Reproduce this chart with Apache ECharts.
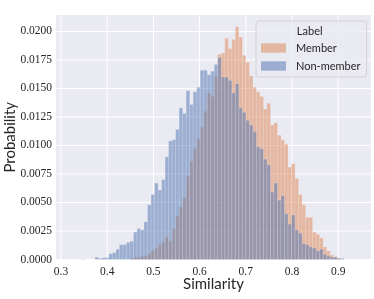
<!DOCTYPE html>
<html><head><meta charset="utf-8">
<script src="https://cdn.jsdelivr.net/npm/echarts@6/dist/echarts.min.js"></script>
<style>html,body{margin:0;padding:0;background:#fff}#c{width:374px;height:299px}</style>
</head><body><div id="c"></div>
<script>
// Histogram definition (shared bins)
const binStart = 0.3202;
const binWidth = 0.0076;

// Probability per bin, Member
const memberProb = [
  0,0,0,0,0,0,0,0,0,0,
  0,0,0,0,0,0,0,0.0001,0.0002,0.0002,
  0.0003,0.0003,0.0005,0.0008,0.0010,0.0013,0.0015,0.0020,0.0016,0.0027,
  0.0038,0.0046,0.0054,0.0073,0.0086,0.0097,0.0106,0.0116,0.0130,0.0146,
  0.0143,0.0161,0.0180,0.0181,0.0194,0.0185,0.0193,0.0204,0.0195,0.0179,
  0.0173,0.0161,0.0151,0.0147,0.0143,0.0132,0.0137,0.0118,0.0120,0.0109,
  0.0105,0.0101,0.0081,0.0084,0.0071,0.0057,0.0048,0.0037,0.0037,0.0024,
  0.0022,0.0019,0.0011,0.00075,0.0004,0.00025,0.0001,0,0,0,
  0,0,0
];

// Probability per bin, Non-member
const nonMemberProb = [
  0,0,0,0.00004,0,0,0,0.0002,0.0001,0.00015,
  0.00016,0.0005,0.0006,0.0009,0.0013,0.0013,0.0015,0.0016,0.0024,0.0027,
  0.0026,0.0033,0.0048,0.0057,0.0067,0.0061,0.0070,0.0090,0.0104,0.0105,
  0.0114,0.0133,0.0128,0.0148,0.0136,0.0147,0.0151,0.0166,0.0166,0.0162,
  0.0165,0.0171,0.0177,0.0160,0.0160,0.0157,0.0146,0.0154,0.0133,0.0129,
  0.0122,0.0118,0.0112,0.0099,0.0097,0.0088,0.0083,0.0059,0.0067,0.0052,
  0.0056,0.0040,0.0031,0.0039,0.0026,0.0023,0.0014,0.0013,0.0011,0.0010,
  0.00075,0.0009,0.00045,0.0003,0.0002,0.0002,0.0001,0.0001,0,0,
  0,0,0
];

const xTicks = [0.3, 0.4, 0.5, 0.6, 0.7, 0.8, 0.9];
const yTicks = [0, 0.0025, 0.005, 0.0075, 0.01, 0.0125, 0.015, 0.0175, 0.02];
const xRange = [0.2892, 0.971];
const yRange = [0, 0.02144];

function toBins(arr) {
  const out = [];
  arr.forEach((v, i) => { if (v > 0) out.push([binStart + i * binWidth, binStart + (i + 1) * binWidth, v]); });
  return out;
}

function barRender(params, api) {
  const p0 = api.coord([api.value(0), api.value(2)]);
  const p1 = api.coord([api.value(1), 0]);
  return {
    type: 'rect',
    shape: { x: p0[0], y: p0[1], width: p1[0] - p0[0], height: p1[1] - p0[1] },
    style: { fill: api.visual('color'), stroke: 'rgba(255,255,255,0.3)', lineWidth: 0.5 }
  };
}

const gridData = xTicks.map(v => [v, 'x']).concat(yTicks.map(v => [v, 'y']));
function gridRender(params, api) {
  const cs = params.coordSys;
  const d = gridData[params.dataIndex];
  if (d[1] === 'x') {
    const px = api.coord([d[0], 0])[0];
    return { type: 'line', shape: { x1: px, y1: cs.y, x2: px, y2: cs.y + cs.height }, style: { stroke: '#ffffff', lineWidth: 1 } };
  }
  const py = api.coord([xRange[0], d[0]])[1];
  return { type: 'line', shape: { x1: cs.x, y1: py, x2: cs.x + cs.width, y2: py }, style: { stroke: '#ffffff', lineWidth: 1 } };
}

const chart = echarts.init(document.getElementById('c'), null, { renderer: 'canvas' });
chart.setOption({
  animation: false,
  backgroundColor: '#ffffff',
  grid: { left: 56, right: 3, top: 15, bottom: 39.5, show: true, backgroundColor: '#eaeaf2', borderWidth: 0, containLabel: false, outerBoundsMode: 'none' },
  xAxis: {
    type: 'value', min: xRange[0], max: xRange[1],
    axisLine: { show: false }, axisTick: { show: false }, splitLine: { show: false },
    axisLabel: { customValues: xTicks, formatter: v => v.toFixed(1), fontFamily: 'Liberation Serif', fontSize: 11.5, color: '#262626', margin: 6 },
    name: 'Similarity', nameLocation: 'middle', nameGap: 17, nameMoveOverlap: false,
    nameTextStyle: { fontFamily: 'Lato', fontSize: 15, color: '#262626' }
  },
  yAxis: {
    type: 'value', min: yRange[0], max: yRange[1],
    axisLine: { show: false }, axisTick: { show: false }, splitLine: { show: false },
    axisLabel: { customValues: yTicks, formatter: v => v.toFixed(4), fontFamily: 'Liberation Serif', fontSize: 11.5, color: '#262626', margin: 4 },
    name: 'Probability', nameLocation: 'middle', nameGap: 38, nameMoveOverlap: false,
    nameTextStyle: { fontFamily: 'Lato', fontSize: 15, color: '#262626' }
  },
  legend: {
    data: ['Member', 'Non-member'],
    orient: 'vertical', left: 256, top: 21,
    padding: [21, 6, 5, 5],
    itemWidth: 25, itemHeight: 9.4, itemGap: 6,
    icon: 'rect',
    backgroundColor: 'rgba(234,234,242,0.8)', borderColor: 'rgba(204,204,204,0.8)', borderWidth: 1, borderRadius: 3,
    textStyle: { fontFamily: 'Lato', fontSize: 11, color: '#262626', lineHeight: 12, padding: [0, 0, 0, 5] },
    selectedMode: false
  },
  graphic: [{
    type: 'text', z: 100, x: 309.7, y: 31,
    style: { text: 'Label', fontFamily: 'Lato', fontSize: 11, fill: '#262626', textAlign: 'center', textVerticalAlign: 'middle' }
  }],
  series: [
    { type: 'custom', name: 'grid', silent: true, renderItem: gridRender, data: gridData.map((d, i) => [i]), z: 1 },
    { type: 'custom', name: 'Member', renderItem: barRender, data: toBins(memberProb), itemStyle: { color: 'rgba(221,132,82,0.5)' }, encode: { x: [0, 1], y: 2 }, z: 2 },
    { type: 'custom', name: 'Non-member', renderItem: barRender, data: toBins(nonMemberProb), itemStyle: { color: 'rgba(76,114,176,0.5)' }, encode: { x: [0, 1], y: 2 }, z: 3 }
  ]
});
</script>
</body></html>
